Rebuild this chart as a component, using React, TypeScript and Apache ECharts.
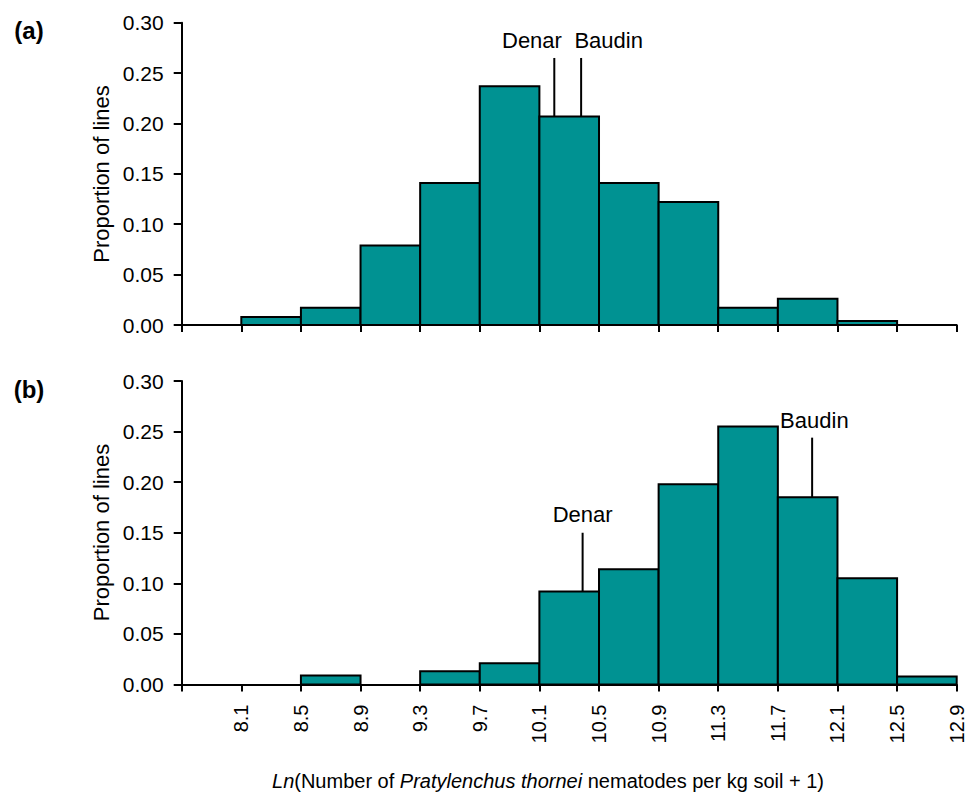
import React, { useEffect, useRef } from "react";
import * as echarts from "echarts";

// ---- data ----
const binStarts = [8.1, 8.5, 8.9, 9.3, 9.7, 10.1, 10.5, 10.9, 11.3, 11.7, 12.1, 12.5];
const binWidth = 0.4;
const proportionA = [0.008, 0.017, 0.079, 0.141, 0.237, 0.207, 0.141, 0.122, 0.017, 0.026, 0.004, 0];
const proportionB = [0, 0.009, 0, 0.013, 0.021, 0.092, 0.114, 0.198, 0.255, 0.185, 0.105, 0.008];
const cultivarNames = ["Denar", "Baudin"];
const cultivarValuesA = [10.2, 10.38];
const cultivarValuesB = [10.39, 11.93];
const xTickLabels = ["8.1", "8.5", "8.9", "9.3", "9.7", "10.1", "10.5", "10.9", "11.3", "11.7", "12.1", "12.5", "12.9"];
const panelLabels = ["(a)", "(b)"];
const yAxisTitle = "Proportion of lines";

// ---- annotation layout (y in data units) ----
const annotLayoutA = { lineTop: [0.265, 0.265], labelX: [10.05, 10.565], labelY: [0.282, 0.282] };
const annotLayoutB = { lineTop: [0.15, 0.244], labelX: [10.39, 11.945], labelY: [0.168, 0.261] };

const FONT = '"Liberation Sans", Arial, Helvetica, sans-serif';
const TEAL = "#009292";

function binValueAt(x: number, vals: number[]) {
  for (let i = 0; i < binStarts.length; i++) {
    if (x >= binStarts[i] && x < binStarts[i] + binWidth) return vals[i];
  }
  return 0;
}

function buildPanel(idx: number, vals: number[], cultVals: number[], layout: any) {
  const bars = binStarts
    .map((s, i) => [s, +(s + binWidth).toFixed(1), vals[i]])
    .filter((d) => d[2] > 0);
  const lines = cultVals.map((x, i) => [x, binValueAt(x, vals), layout.lineTop[i]]);
  const labels = cultVals.map((_, i) => [layout.labelX[i], layout.labelY[i], cultivarNames[i]]);
  return [
    {
      type: "custom",
      xAxisIndex: idx,
      yAxisIndex: idx,
      clip: false,
      encode: { x: [0, 1], y: 2 },
      data: bars,
      renderItem: (params: any, api: any) => {
        const p0 = api.coord([api.value(0), api.value(2)]);
        const p1 = api.coord([api.value(1), 0]);
        return {
          type: "rect",
          shape: { x: p0[0], y: p0[1], width: p1[0] - p0[0], height: p1[1] - p0[1] },
          style: { fill: TEAL, stroke: "#000", lineWidth: 2 },
        };
      },
      z: 2,
    },
    {
      type: "custom",
      xAxisIndex: idx,
      yAxisIndex: idx,
      clip: false,
      encode: { x: 0, y: [1, 2] },
      data: lines,
      renderItem: (params: any, api: any) => {
        const p0 = api.coord([api.value(0), api.value(1)]);
        const p1 = api.coord([api.value(0), api.value(2)]);
        return {
          type: "line",
          shape: { x1: p0[0], y1: p0[1], x2: p1[0], y2: p1[1] },
          style: { stroke: "#000", lineWidth: 2 },
        };
      },
      z: 3,
    },
    {
      type: "custom",
      xAxisIndex: idx,
      yAxisIndex: idx,
      clip: false,
      encode: { x: 0, y: 1 },
      data: labels,
      renderItem: (params: any, api: any) => {
        const p = api.coord([api.value(0), api.value(1)]);
        return {
          type: "text",
          x: p[0],
          y: p[1],
          style: {
            text: labels[params.dataIndex][2],
            fill: "#000",
            fontSize: 22,
            fontFamily: FONT,
            align: "center",
            verticalAlign: "middle",
          },
        };
      },
      z: 4,
    },
  ];
}

export default function App() {
  const ref = useRef<HTMLDivElement>(null);
  useEffect(() => {
    if (!ref.current) return;
    const chart = echarts.init(ref.current, undefined, { renderer: "svg" });
    const grids = [
      { left: 181.7, top: 22.7, width: 775, height: 302.3 },
      { left: 181.7, top: 381, width: 775, height: 303.5 },
    ];
    const axisLine = { show: true, onZero: false, lineStyle: { color: "#000", width: 2 } };
    const xAxes = [0, 1].map((i) => ({
      type: "value",
      gridIndex: i,
      min: 7.7,
      max: 12.9,
      interval: 0.4,
      axisLine,
      axisTick: { show: true, length: 7, lineStyle: { color: "#000", width: 2 } },
      splitLine: { show: false },
      axisLabel: {
        show: i === 1,
        rotate: 90,
        margin: 20,
        color: "#000",
        fontSize: 20,
        fontFamily: FONT,
        formatter: (v: number) => {
          const s = v.toFixed(1);
          return xTickLabels.includes(s) ? s : "";
        },
      },
    }));
    const yAxes = [0, 1].map((i) => ({
      type: "value",
      gridIndex: i,
      min: 0,
      max: 0.3,
      interval: 0.05,
      axisLine,
      axisTick: { show: true, length: 8, lineStyle: { color: "#000", width: 2 } },
      splitLine: { show: false },
      axisLabel: {
        margin: 18,
        color: "#000",
        fontSize: 21,
        fontFamily: FONT,
        formatter: (v: number) => v.toFixed(2),
      },
    }));
    const yNameCenters = [174, 532.5];
    const graphic: any[] = [];
    panelLabels.forEach((t, i) => {
      graphic.push({
        type: "text",
        x: 29,
        y: i === 0 ? 30 : 389,
        style: {
          text: t,
          fill: "#000",
          fontSize: 24,
          fontWeight: "bold",
          fontFamily: FONT,
          align: "center",
          verticalAlign: "middle",
        },
      });
      graphic.push({
        type: "text",
        x: 101.7,
        y: yNameCenters[i],
        rotation: Math.PI / 2,
        style: {
          text: yAxisTitle,
          fill: "#000",
          fontSize: 22,
          fontFamily: FONT,
          align: "center",
          verticalAlign: "middle",
        },
      });
    });
    graphic.push({
      type: "text",
      x: 548,
      y: 781,
      style: {
        text: "{i|Ln}(Number of {i|Pratylenchus thornei} nematodes per kg soil + 1)",
        fill: "#000",
        fontSize: 20,
        fontFamily: FONT,
        align: "center",
        verticalAlign: "middle",
        rich: {
          i: { fontStyle: "italic", fontSize: 20, fontFamily: FONT, fill: "#000" },
        },
      },
    });
    chart.setOption({
      animation: false,
      backgroundColor: "#fff",
      grid: grids,
      xAxis: xAxes,
      yAxis: yAxes,
      series: [
        ...buildPanel(0, proportionA, cultivarValuesA, annotLayoutA),
        ...buildPanel(1, proportionB, cultivarValuesB, annotLayoutB),
      ],
      graphic,
    });
    return () => chart.dispose();
  }, []);
  return (
    <div
      ref={ref}
      style={{ position: "fixed", left: 0, top: 0, width: 976, height: 794, background: "#fff" }}
    />
  );
}
